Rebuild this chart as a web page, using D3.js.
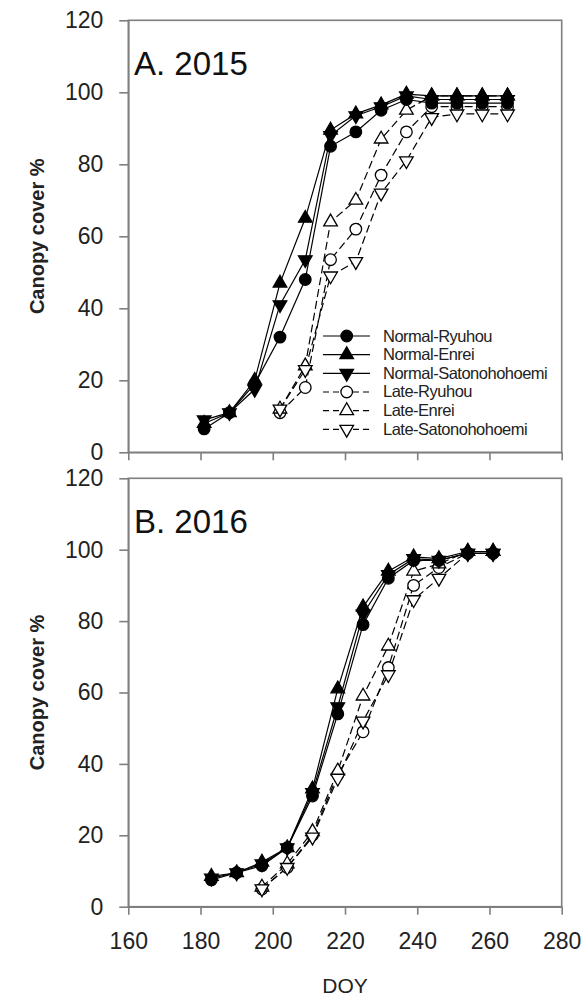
<!DOCTYPE html>
<html>
<head>
<meta charset="utf-8">
<script src="https://cdn.jsdelivr.net/npm/d3@7"></script>
<style>
html,body{margin:0;padding:0;background:#fff;}
svg{display:block;}
text{font-family:Arial,"Liberation Sans",sans-serif;}
</style>
</head>
<body>
<svg id="chart" width="585" height="1003"></svg>
<script>
// ---------- data ----------
const xTicks = [160, 180, 200, 220, 240, 260, 280];
const yTicks = [0, 20, 40, 60, 80, 100, 120];
const seriesNames = ["Normal-Ryuhou","Normal-Enrei","Normal-Satonohohoemi","Late-Ryuhou","Late-Enrei","Late-Satonohohoemi"];
const seriesShapes = ["circle","triangle-up","triangle-down","circle","triangle-up","triangle-down"];
const seriesFilled = [true,true,true,false,false,false];
const seriesDashed = [false,false,false,true,true,true];

// 2015
const doyNormal2015 = [181,188,195,202,209,216,223,230,237,244,251,258,265];
const normalRyuhou2015 = [6.5,11,19,32,48,85,89,95,98,97,97,97,97];
const normalEnrei2015 = [8,11,20,47,65,89.5,94,96.5,99.5,99,99,99,99];
const normalSato2015 = [9,11,17.5,41,53.5,88,93.5,96,99,98,98,98,98];
const doyLate2015 = [202,209,216,223,230,237,244,251,258,265];
const lateRyuhou2015 = [11,18,53.5,62,77,89,96,96,96,96];
const lateEnrei2015 = [12,24,64,70,87,95,99,99,99,99];
const lateSato2015 = [12,23,49,53,72,81,93,94,94,94];

// 2016
const doyNormal2016 = [183,190,197,204,211,218,225,232,239,246,254,261];
const normalRyuhou2016 = [7.5,9.5,11.5,16.5,31,54,79,92,97,97,99,99];
const normalEnrei2016 = [8.5,9.5,12.5,16.5,33,61,84,94,98,97.5,99.5,99.5];
const normalSato2016 = [8,9.5,12,16.5,32,56,82,93,97.5,97,99,99];
const doyLate2016 = [197,204,211,218,225,232,239,246,254,261];
const lateRyuhou2016 = [5,11,20,37,49,67,90,95,99,99];
const lateEnrei2016 = [5.5,12,21,38,59,73,94,96,99.5,99.5];
const lateSato2016 = [5,11,19.5,36,52,65,86,92,99,99];

const panels = [
  {title:"A. 2015", top:20.3, bottom:452.3, showX:false, legend:true,
   series:[[doyNormal2015,normalRyuhou2015],[doyNormal2015,normalEnrei2015],[doyNormal2015,normalSato2015],
           [doyLate2015,lateRyuhou2015],[doyLate2015,lateEnrei2015],[doyLate2015,lateSato2015]]},
  {title:"B. 2016", top:478.3, bottom:906.7, showX:true, legend:false,
   series:[[doyNormal2016,normalRyuhou2016],[doyNormal2016,normalEnrei2016],[doyNormal2016,normalSato2016],
           [doyLate2016,lateRyuhou2016],[doyLate2016,lateEnrei2016],[doyLate2016,lateSato2016]]}
];

// ---------- drawing ----------
const svg = d3.select("#chart");
const left = 128.3, right = 561.7;
const x = d3.scaleLinear().domain([160,280]).range([left,right]);
const axisColor = "#7f7f7f";

function symbolPath(shape, size){
  const t = shape==="circle" ? d3.symbolCircle : d3.symbolTriangle;
  return d3.symbol().type(t).size(size)();
}
function drawMarker(g, shape, filled, cx, cy){
  const size = shape==="circle" ? 105 : 80;
  return g.append("path")
    .attr("d", symbolPath(shape,size))
    .attr("transform", `translate(${cx},${cy})` + (shape==="triangle-down" ? " rotate(180)" : ""))
    .attr("fill", filled ? "#000" : "#fff")
    .attr("stroke", "#000")
    .attr("stroke-width", 1.3);
}

panels.forEach(p=>{
  const y = d3.scaleLinear().domain([0,120]).range([p.bottom,p.top]);
  const g = svg.append("g");

  // frame
  g.append("rect").attr("x",left).attr("y",p.top).attr("width",right-left).attr("height",p.bottom-p.top)
    .attr("fill","none").attr("stroke",axisColor).attr("stroke-width",1.6);

  // y axis
  const ya = g.append("g").attr("transform",`translate(${left},0)`)
    .call(d3.axisLeft(y).tickValues(yTicks).tickSize(9).tickPadding(16).tickSizeOuter(0));
  ya.select(".domain").attr("stroke",axisColor).attr("stroke-width",1.6);
  ya.selectAll(".tick line").attr("stroke",axisColor).attr("stroke-width",1.6);
  ya.selectAll(".tick text").attr("font-size",23).attr("fill","#222").style("font-family","Arial, 'Liberation Sans', sans-serif");

  // x axis
  const xa = g.append("g").attr("transform",`translate(0,${p.bottom})`)
    .call(d3.axisBottom(x).tickValues(xTicks).tickSize(8).tickPadding(18).tickSizeOuter(0));
  xa.select(".domain").attr("stroke",axisColor).attr("stroke-width",1.6);
  xa.selectAll(".tick line").attr("stroke",axisColor).attr("stroke-width",1.6);
  if(p.showX){
    xa.selectAll(".tick text").attr("font-size",23).attr("fill","#222").style("font-family","Arial, 'Liberation Sans', sans-serif");
  } else {
    xa.selectAll(".tick text").remove();
  }

  // y label
  g.append("text")
    .attr("transform",`translate(44,${(p.top+p.bottom)/2}) rotate(-90)`)
    .attr("text-anchor","middle")
    .attr("font-size",20).attr("font-weight","bold").attr("fill","#222")
    .text("Canopy cover %");

  // title
  g.append("text").attr("x",134).attr("y",p.top+55)
    .attr("font-size",33).attr("fill","#111").text(p.title);

  // series lines
  const line = d3.line().x(d=>x(d[0])).y(d=>y(d[1]));
  p.series.forEach((s,i)=>{
    const pts = s[0].map((d,j)=>[d,s[1][j]]);
    g.append("path").datum(pts).attr("d",line)
      .attr("fill","none").attr("stroke","#000").attr("stroke-width",1.2)
      .attr("stroke-dasharray", seriesDashed[i] ? "8,4" : null);
  });
  // markers (late drawn first, normal on top)
  [3,4,5,0,1,2].forEach(i=>{
    const s = p.series[i];
    s[0].forEach((d,j)=>{
      drawMarker(g, seriesShapes[i], seriesFilled[i], x(d), y(s[1][j]));
    });
  });

  // legend
  if(p.legend){
    const lx0 = 323, lx1 = 370, lm = 346.7, tx = 383;
    const rowY = d3.scaleLinear().domain([0,5]).range([336,429.3]);
    seriesNames.forEach((n,i)=>{
      const ry = rowY(i);
      g.append("line").attr("x1",lx0).attr("x2",lx1).attr("y1",ry).attr("y2",ry)
        .attr("stroke","#000").attr("stroke-width",1.2)
        .attr("stroke-dasharray", seriesDashed[i] ? "6,4" : null);
      drawMarker(g, seriesShapes[i], seriesFilled[i], lm, ry);
      g.append("text").attr("x",tx).attr("y",ry+5.5)
        .attr("font-size",16.5).attr("fill","#222").attr("letter-spacing",-0.5)
        .text(n);
    });
  }
});

// x label
svg.append("text").attr("x",(left+right)/2).attr("y",993).attr("text-anchor","middle")
  .attr("font-size",21).attr("fill","#222").text("DOY");
</script>
</body>
</html>
